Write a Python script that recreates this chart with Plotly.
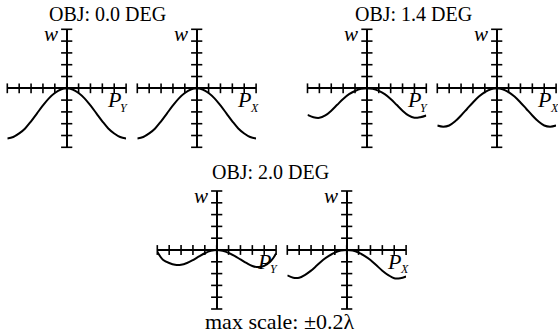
import plotly.graph_objects as go

# Normalised pupil coordinate and wavefront error (waves) for each ray fan
rho = [-1.0, -0.9, -0.8, -0.7, -0.6, -0.5, -0.4, -0.3, -0.2, -0.1, 0.0,
       0.1, 0.2, 0.3, 0.4, 0.5, 0.6, 0.7, 0.8, 0.9, 1.0]
rho_2deg_y = [-1.0, -0.95, -0.9, -0.8, -0.7, -0.6, -0.5, -0.4, -0.3, -0.2, -0.1, 0.0,
              0.1, 0.2, 0.3, 0.4, 0.5, 0.6, 0.7, 0.8, 0.9, 0.95, 1.0]

w_0deg_y = [-0.170, -0.165, -0.153, -0.136, -0.112, -0.085, -0.058, -0.034, -0.016, -0.004, 0.0,
            -0.004, -0.016, -0.034, -0.058, -0.085, -0.112, -0.136, -0.153, -0.165, -0.170]
w_0deg_x = [-0.170, -0.165, -0.153, -0.136, -0.112, -0.085, -0.058, -0.034, -0.016, -0.004, 0.0,
            -0.004, -0.016, -0.034, -0.058, -0.085, -0.112, -0.136, -0.153, -0.165, -0.170]
w_14deg_y = [-0.090, -0.098, -0.100, -0.092, -0.076, -0.056, -0.036, -0.020, -0.009, -0.002, 0.0,
             -0.002, -0.009, -0.020, -0.036, -0.056, -0.076, -0.092, -0.100, -0.098, -0.092]
w_14deg_x = [-0.126, -0.130, -0.126, -0.112, -0.092, -0.070, -0.048, -0.028, -0.013, -0.003, 0.0,
             -0.003, -0.013, -0.028, -0.048, -0.070, -0.092, -0.112, -0.126, -0.130, -0.126]
w_2deg_y = [-0.006, -0.022, -0.034, -0.044, -0.050, -0.050, -0.044, -0.034, -0.022, -0.011, -0.003, 0.0,
            -0.003, -0.010, -0.020, -0.032, -0.044, -0.054, -0.058, -0.054, -0.040, -0.028, -0.012]
w_2deg_x = [-0.086, -0.094, -0.094, -0.084, -0.070, -0.052, -0.034, -0.020, -0.009, -0.002, 0.0,
            -0.002, -0.009, -0.020, -0.034, -0.052, -0.070, -0.085, -0.096, -0.096, -0.090]

field_titles = ["OBJ: 0.0 DEG", "OBJ: 1.4 DEG", "OBJ: 2.0 DEG"]
fan_subscripts = ["Y", "X"]
scale_note = "max scale: ±0.2λ"

pupil_ticks = [-1.0, -0.8, -0.6, -0.4, -0.2, 0.0, 0.2, 0.4, 0.6, 0.8, 1.0]
wave_ticks = [-0.2, -0.16, -0.12, -0.08, -0.04, 0.0, 0.04, 0.08, 0.12, 0.16, 0.2]
max_scale = 0.2

fans = [
    (rho, w_0deg_y, 0), (rho, w_0deg_x, 1),
    (rho, w_14deg_y, 0), (rho, w_14deg_x, 1),
    (rho_2deg_y, w_2deg_y, 0), (rho, w_2deg_x, 1),
]

# Layout: panel centres in pixels
W, H = 558, 334
centres = [(66.7, 88.3), (196.7, 88.3), (366.9, 88.3), (496.7, 88.3),
           (216.7, 250.0), (346.7, 250.0)]
HALF_W, HALF_H = 59.4, 59.0

SERIF = "'Liberation Serif', 'Times New Roman', 'DejaVu Serif', serif"
INK = "black"
fig = go.Figure()
layout = dict(width=W, height=H, margin=dict(l=0, r=0, t=0, b=0),
              paper_bgcolor="white", plot_bgcolor="rgba(0,0,0,0)",
              showlegend=False, annotations=[])

for i, ((px, wv, lab), (cx, cy)) in enumerate(zip(fans, centres)):
    n = "" if i == 0 else str(i + 1)
    xa, ya = "x" + n, "y" + n
    axis_common = dict(showgrid=False, showticklabels=False, ticks="",
                       zeroline=True, zerolinecolor=INK, zerolinewidth=2.2,
                       showline=False, fixedrange=True)
    layout["xaxis" + n] = dict(axis_common, range=[-1, 1], anchor=ya,
                               domain=[(cx - HALF_W) / W, (cx + HALF_W) / W])
    layout["yaxis" + n] = dict(axis_common, range=[-max_scale, max_scale], anchor=xa,
                               domain=[1 - (cy + HALF_H) / H, 1 - (cy - HALF_H) / H])
    # tick crosses on both axes
    fig.add_trace(go.Scatter(x=pupil_ticks, y=[0] * len(pupil_ticks), xaxis=xa, yaxis=ya,
                             mode="markers", cliponaxis=False, hoverinfo="skip",
                             marker=dict(symbol="line-ns", size=7,
                                         line=dict(color=INK, width=1.6))))
    fig.add_trace(go.Scatter(x=[0] * len(wave_ticks), y=wave_ticks, xaxis=xa, yaxis=ya,
                             mode="markers", cliponaxis=False, hoverinfo="skip",
                             marker=dict(symbol="line-ew", size=8,
                                         line=dict(color=INK, width=1.6))))
    # wavefront fan curve
    fig.add_trace(go.Scatter(x=px, y=wv, xaxis=xa, yaxis=ya, mode="lines",
                             cliponaxis=False, line=dict(color=INK, width=2, shape="spline")))
    layout["annotations"].append(dict(x=-0.27, y=0.183, xref=xa, yref=ya, text="<i>w</i>",
                                      showarrow=False, font=dict(family=SERIF, size=21, color=INK)))
    layout["annotations"].append(dict(x=0.79, y=-0.038, xref=xa, yref=ya, text="<i>P</i>",
                                      showarrow=False, font=dict(family=SERIF, size=22, color=INK)))
    layout["annotations"].append(dict(x=0.965, y=-0.066, xref=xa, yref=ya,
                                      text="<i>" + fan_subscripts[lab] + "</i>",
                                      showarrow=False, font=dict(family=SERIF, size=12, color=INK)))

title_pos = [(107.5, 14.5), (413.8, 14.5), (270.8, 172.3)]
for t, (tx, ty) in zip(field_titles, title_pos):
    layout["annotations"].append(dict(x=tx / W, y=1 - ty / H, xref="paper", yref="paper", text=t,
                                      showarrow=False, xanchor="center", yanchor="middle",
                                      font=dict(family=SERIF, size=20, color=INK)))
layout["annotations"].append(dict(x=279.5 / W, y=1 - 321.0 / H, xref="paper", yref="paper",
                                  text=scale_note, showarrow=False, xanchor="center", yanchor="middle",
                                  font=dict(family=SERIF, size=22, color=INK)))

fig.update_layout(**layout)
fig.write_html("out.html")
